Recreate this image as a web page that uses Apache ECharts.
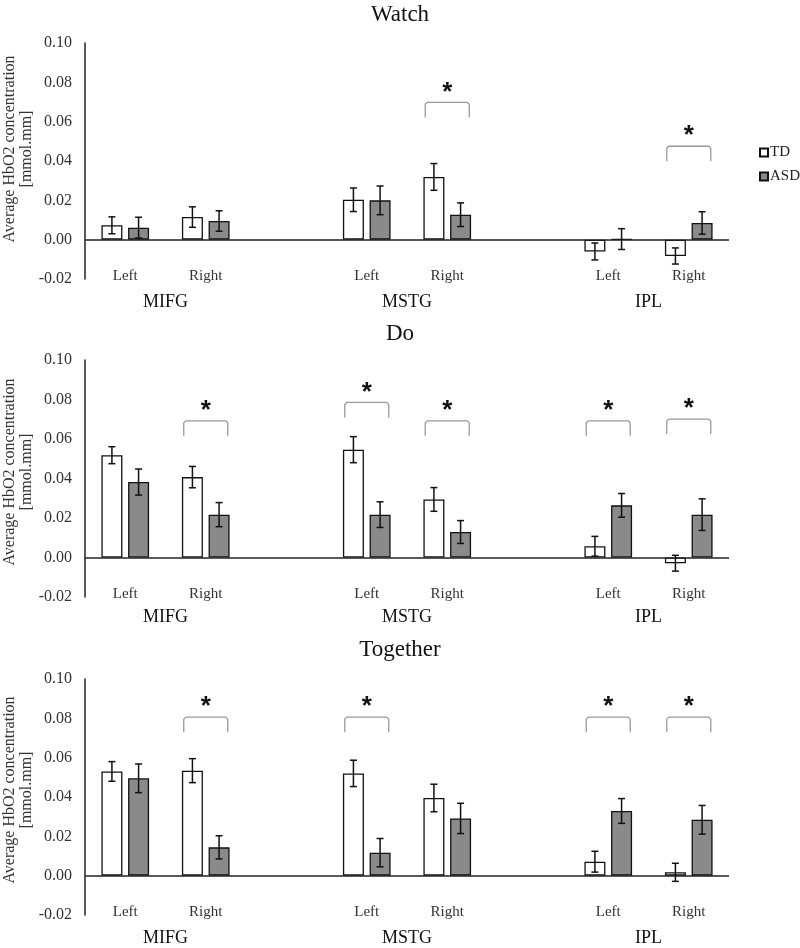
<!DOCTYPE html>
<html>
<head>
<meta charset="utf-8">
<script src="https://cdn.jsdelivr.net/npm/echarts@6/dist/echarts.min.js"></script>
<style>
html,body{margin:0;padding:0;background:#fff;}
#chart{width:800px;height:948px;}
</style>
</head>
<body>
<div id="chart"></div>
<script>
// ---------- data ----------
const categories = ['Left', 'Right', '', 'Left', 'Right', '', 'Left', 'Right'];
const regionLabels = { 1: 'MIFG', 4: 'MSTG', 7: 'IPL' };
const panelTitles = ['Watch', 'Do', 'Together'];
const yTicks = [-0.02, 0.00, 0.02, 0.04, 0.06, 0.08, 0.10];

const tdWatch     = [0.0073, 0.0115, null, 0.0203, 0.0319, null, -0.0060, -0.0083];
const tdWatchErr  = [0.0043, 0.0052, null, 0.0060, 0.0068, null, 0.0043, 0.0041];
const asdWatch    = [0.0061, 0.0095, null, 0.0200, 0.0127, null, 0.0003, 0.0085];
const asdWatchErr = [0.0053, 0.0052, null, 0.0073, 0.0060, null, 0.0053, 0.0057];

const tdDo     = [0.0518, 0.0407, null, 0.0546, 0.0294, null, 0.0057, -0.0029];
const tdDoErr  = [0.0043, 0.0054, null, 0.0066, 0.0060, null, 0.0050, 0.0040];
const asdDo    = [0.0382, 0.0217, null, 0.0217, 0.0129, null, 0.0264, 0.0217];
const asdDoErr = [0.0066, 0.0061, null, 0.0065, 0.0058, null, 0.0060, 0.0080];

const tdTogether     = [0.0530, 0.0534, null, 0.0520, 0.0395, null, 0.0071, 0.0017];
const tdTogetherErr  = [0.0050, 0.0061, null, 0.0067, 0.0070, null, 0.0053, 0.0046];
const asdTogether    = [0.0495, 0.0144, null, 0.0117, 0.0291, null, 0.0329, 0.0284];
const asdTogetherErr = [0.0073, 0.0059, null, 0.0072, 0.0077, null, 0.0063, 0.0073];

// significance brackets: [category index, bracket top value]
const sigWatch    = [[4, 0.0698], [7, 0.0475]];
const sigDo       = [[1, 0.0692], [3, 0.0785], [4, 0.0692], [6, 0.0692], [7, 0.0701]];
const sigTogether = [[1, 0.0806], [3, 0.0806], [6, 0.0806], [7, 0.0806]];

// ---------- layout / style ----------
const SERIF = '"Liberation Serif", "Times New Roman", serif';
const panels = [
  { td: tdWatch, tdE: tdWatchErr, asd: asdWatch, asdE: asdWatchErr, sig: sigWatch, top: 43, height: 236, titleTop: -2, nameY: 149, groupMargin: 14 },
  { td: tdDo, tdE: tdDoErr, asd: asdDo, asdE: asdDoErr, sig: sigDo, top: 360, height: 237, titleTop: 317, nameY: 472, groupMargin: 11 },
  { td: tdTogether, tdE: tdTogetherErr, asd: asdTogether, asdE: asdTogetherErr, sig: sigTogether, top: 679, height: 236, titleTop: 633, nameY: 790, groupMargin: 14 }
];
const BAR_W = 21, BAR_GAP = 0.27;
const OFF = (BAR_W + BAR_W * BAR_GAP) / 2;
const ASD_COLOR = '#8a8a8a';

function errRender(offset) {
  return function (params, api) {
    const c = api.value(0);
    const x = api.coord([c, 0])[0] + offset;
    const yLo = api.coord([c, api.value(1)])[1];
    const yHi = api.coord([c, api.value(2)])[1];
    const cap = 3.5;
    const st = { stroke: '#111', lineWidth: 1.5 };
    return { type: 'group', children: [
      { type: 'line', shape: { x1: x, y1: yLo, x2: x, y2: yHi }, style: st },
      { type: 'line', shape: { x1: x - cap, y1: yLo, x2: x + cap, y2: yLo }, style: st },
      { type: 'line', shape: { x1: x - cap, y1: yHi, x2: x + cap, y2: yHi }, style: st }
    ]};
  };
}
function sigRender(params, api) {
  const p = api.coord([api.value(0), api.value(1)]);
  const hw = 22, leg = 15;
  return { type: 'group', children: [
    { type: 'polyline', shape: { points: [[p[0] - hw, p[1] + leg], [p[0] - hw, p[1] + 2], [p[0] - hw + 2, p[1]], [p[0] + hw - 2, p[1]], [p[0] + hw, p[1] + 2], [p[0] + hw, p[1] + leg]] },
      style: { stroke: '#9a9a9a', lineWidth: 1.3, fill: null } },
    { type: 'text', x: p[0], y: p[1] - 10, style: { text: '*', font: 'bold 26px "Liberation Sans", Arial, sans-serif', fill: '#111', align: 'center', verticalAlign: 'middle' } }
  ]};
}

const option = { animation: false, backgroundColor: '#fff', title: [], grid: [], xAxis: [], yAxis: [], series: [], graphic: [],
  legend: { data: ['TD', 'ASD'], orient: 'vertical', left: 754, top: 140, itemWidth: 8, itemHeight: 8, itemGap: 9, icon: 'rect',
    textStyle: { fontFamily: SERIF, fontSize: 15, color: '#222', padding: [0, 0, 0, -3] } } };

panels.forEach((p, k) => {
  option.title.push({ text: panelTitles[k], left: 'center', top: p.titleTop, textStyle: { fontFamily: SERIF, fontSize: 23, fontWeight: 'normal', color: '#111' } });
  option.grid.push({ left: 85, right: 71, top: p.top, height: p.height });
  option.xAxis.push({ type: 'category', gridIndex: k, data: categories, boundaryGap: true,
    axisLine: { show: false }, axisTick: { show: false },
    axisLabel: { margin: -10, fontFamily: SERIF, fontSize: 15, color: '#333', interval: 0 } });
  option.xAxis.push({ type: 'value', gridIndex: k, min: 0, max: 8, interval: 1, position: 'bottom',
    axisLine: { show: false }, axisTick: { show: false }, splitLine: { show: false },
    axisLabel: { margin: p.groupMargin, fontFamily: SERIF, fontSize: 18, color: '#111', showMinLabel: true, showMaxLabel: true,
      formatter: v => regionLabels[v] || '' } });
  option.yAxis.push({ type: 'value', gridIndex: k, min: yTicks[0], max: yTicks[yTicks.length - 1], interval: 0.02,
    axisLine: { show: true, onZero: false, lineStyle: { color: '#222', width: 1.5 } }, axisTick: { show: false }, splitLine: { show: false },
    axisLabel: { margin: 13, fontFamily: SERIF, fontSize: 16, color: '#333', formatter: v => v.toFixed(2) } });
  const xi = k * 2;
  option.series.push({ name: 'TD', type: 'bar', xAxisIndex: xi, yAxisIndex: k, data: p.td, barWidth: BAR_W, barGap: (BAR_GAP * 100) + '%',
    itemStyle: { color: '#fff', borderColor: '#111', borderWidth: 1.3 }, z: 3,
    markLine: { silent: true, symbol: 'none', label: { show: false }, lineStyle: { color: '#222', width: 1.5, type: 'solid' }, data: [{ yAxis: 0 }] } });
  option.series.push({ name: 'ASD', type: 'bar', xAxisIndex: xi, yAxisIndex: k, data: p.asd, barWidth: BAR_W,
    itemStyle: { color: ASD_COLOR, borderColor: '#111', borderWidth: 1.3 }, z: 3 });
  const tdErr = [], asdErr = [];
  categories.forEach((c, i) => {
    if (p.td[i] != null) tdErr.push([i, p.td[i] - p.tdE[i], p.td[i] + p.tdE[i]]);
    if (p.asd[i] != null) asdErr.push([i, p.asd[i] - p.asdE[i], p.asd[i] + p.asdE[i]]);
  });
  option.series.push({ type: 'custom', xAxisIndex: xi, yAxisIndex: k, data: tdErr, renderItem: errRender(-OFF), z: 5, silent: true });
  option.series.push({ type: 'custom', xAxisIndex: xi, yAxisIndex: k, data: asdErr, renderItem: errRender(OFF), z: 5, silent: true });
  option.series.push({ type: 'custom', xAxisIndex: xi, yAxisIndex: k, data: p.sig, renderItem: sigRender, z: 5, silent: true });
  option.graphic.push({ type: 'text', x: 18, y: p.nameY, rotation: Math.PI / 2,
    style: { text: 'Average HbO2 concentration\n[mmol.mm]', font: '16px ' + SERIF, fill: '#333', align: 'center', verticalAlign: 'middle', lineHeight: 17 } });
});

const chart = echarts.init(document.getElementById('chart'));
chart.setOption(option);
</script>
</body>
</html>
